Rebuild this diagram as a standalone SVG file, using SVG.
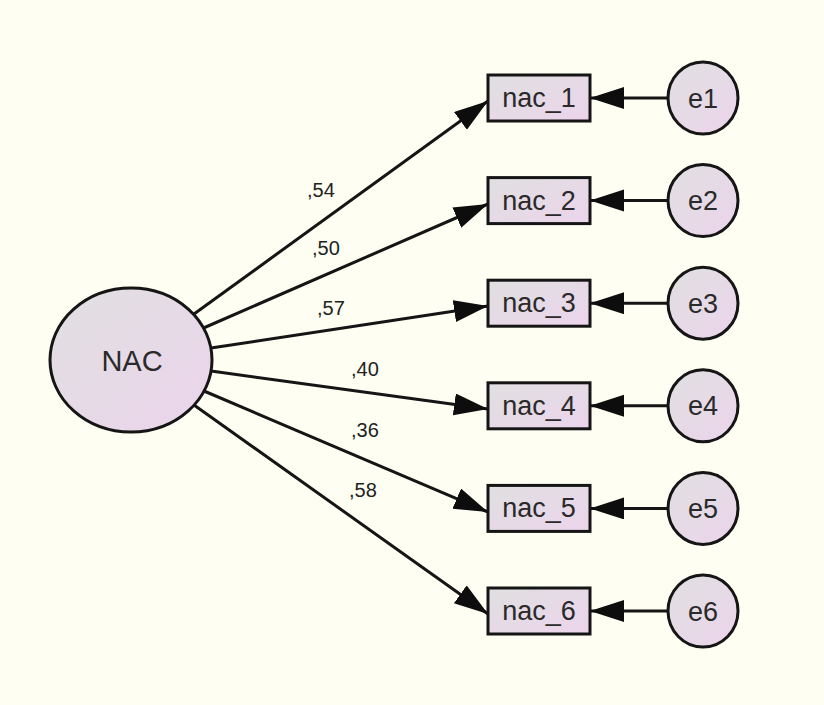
<svg xmlns="http://www.w3.org/2000/svg" width="824" height="705" viewBox="0 0 824 705">
<style>
.node{stroke:#151515;stroke-width:3}
.lbl{font-family:"Liberation Sans",Arial,sans-serif;fill:#2a2a2a;text-anchor:middle}
.coef{font-family:"Liberation Sans",Arial,sans-serif;fill:#222;font-size:20px}
.conn line{stroke:#151515;stroke-width:3;marker-end:url(#ah)}
</style>
<defs>
<linearGradient id="g" x1="0" y1="0" x2="1" y2="1">
<stop offset="0" stop-color="#e0e0e0"/>
<stop offset="1" stop-color="#ecd4ec"/>
</linearGradient>
<marker id="ah" markerUnits="userSpaceOnUse" markerWidth="36" markerHeight="24" refX="34" refY="11" orient="auto">
<path d="M0,0 L34,11 L0,22 z" fill="#0d0d0d"/>
</marker>
</defs>
<rect width="824" height="705" fill="#fefef2"/>
<g id="connectors" class="conn">
<line x1="194" y1="314" x2="488" y2="101"/>
<line x1="203.5" y1="328" x2="488" y2="204"/>
<line x1="211" y1="348" x2="488" y2="306"/>
<line x1="211" y1="371" x2="488" y2="409"/>
<line x1="204" y1="391" x2="488" y2="512"/>
<line x1="194" y1="405" x2="488" y2="614"/>
<line x1="668" y1="98" x2="590" y2="98"/>
<line x1="668" y1="200.6" x2="590" y2="200.6"/>
<line x1="668" y1="303.2" x2="590" y2="303.2"/>
<line x1="668" y1="405.8" x2="590" y2="405.8"/>
<line x1="668" y1="508.4" x2="590" y2="508.4"/>
<line x1="668" y1="611" x2="590" y2="611"/>
</g>
<g id="coefficients">
<text class="coef" x="307" y="197">,54</text>
<text class="coef" x="312" y="255">,50</text>
<text class="coef" x="317" y="315">,57</text>
<text class="coef" x="351" y="376">,40</text>
<text class="coef" x="351" y="437">,36</text>
<text class="coef" x="349" y="497">,58</text>
</g>
<g id="NAC">
<ellipse class="node" cx="131" cy="360" rx="81" ry="72" fill="url(#g)"/>
<text class="lbl" x="132" y="371" font-size="29">NAC</text>
</g>
<g id="nac_1"><rect class="node" x="488" y="75" width="102" height="46" fill="url(#g)"/><text class="lbl" x="539" y="107" font-size="27">nac_1</text></g>
<g id="nac_2"><rect class="node" x="488" y="177.6" width="102" height="46" fill="url(#g)"/><text class="lbl" x="539" y="209.6" font-size="27">nac_2</text></g>
<g id="nac_3"><rect class="node" x="488" y="280.2" width="102" height="46" fill="url(#g)"/><text class="lbl" x="539" y="312.2" font-size="27">nac_3</text></g>
<g id="nac_4"><rect class="node" x="488" y="382.8" width="102" height="46" fill="url(#g)"/><text class="lbl" x="539" y="414.8" font-size="27">nac_4</text></g>
<g id="nac_5"><rect class="node" x="488" y="485.4" width="102" height="46" fill="url(#g)"/><text class="lbl" x="539" y="517.4" font-size="27">nac_5</text></g>
<g id="nac_6"><rect class="node" x="488" y="588" width="102" height="46" fill="url(#g)"/><text class="lbl" x="539" y="620" font-size="27">nac_6</text></g>
<g id="e1"><ellipse class="node" cx="703" cy="98" rx="35" ry="36" fill="url(#g)"/><text class="lbl" x="703" y="107.5" font-size="27">e1</text></g>
<g id="e2"><ellipse class="node" cx="703" cy="200.6" rx="35" ry="36" fill="url(#g)"/><text class="lbl" x="703" y="210" font-size="27">e2</text></g>
<g id="e3"><ellipse class="node" cx="703" cy="303.2" rx="35" ry="36" fill="url(#g)"/><text class="lbl" x="703" y="312.7" font-size="27">e3</text></g>
<g id="e4"><ellipse class="node" cx="703" cy="405.8" rx="35" ry="36" fill="url(#g)"/><text class="lbl" x="703" y="415.3" font-size="27">e4</text></g>
<g id="e5"><ellipse class="node" cx="703" cy="508.4" rx="35" ry="36" fill="url(#g)"/><text class="lbl" x="703" y="517.9" font-size="27">e5</text></g>
<g id="e6"><ellipse class="node" cx="703" cy="611" rx="35" ry="36" fill="url(#g)"/><text class="lbl" x="703" y="620.5" font-size="27">e6</text></g>
</svg>
